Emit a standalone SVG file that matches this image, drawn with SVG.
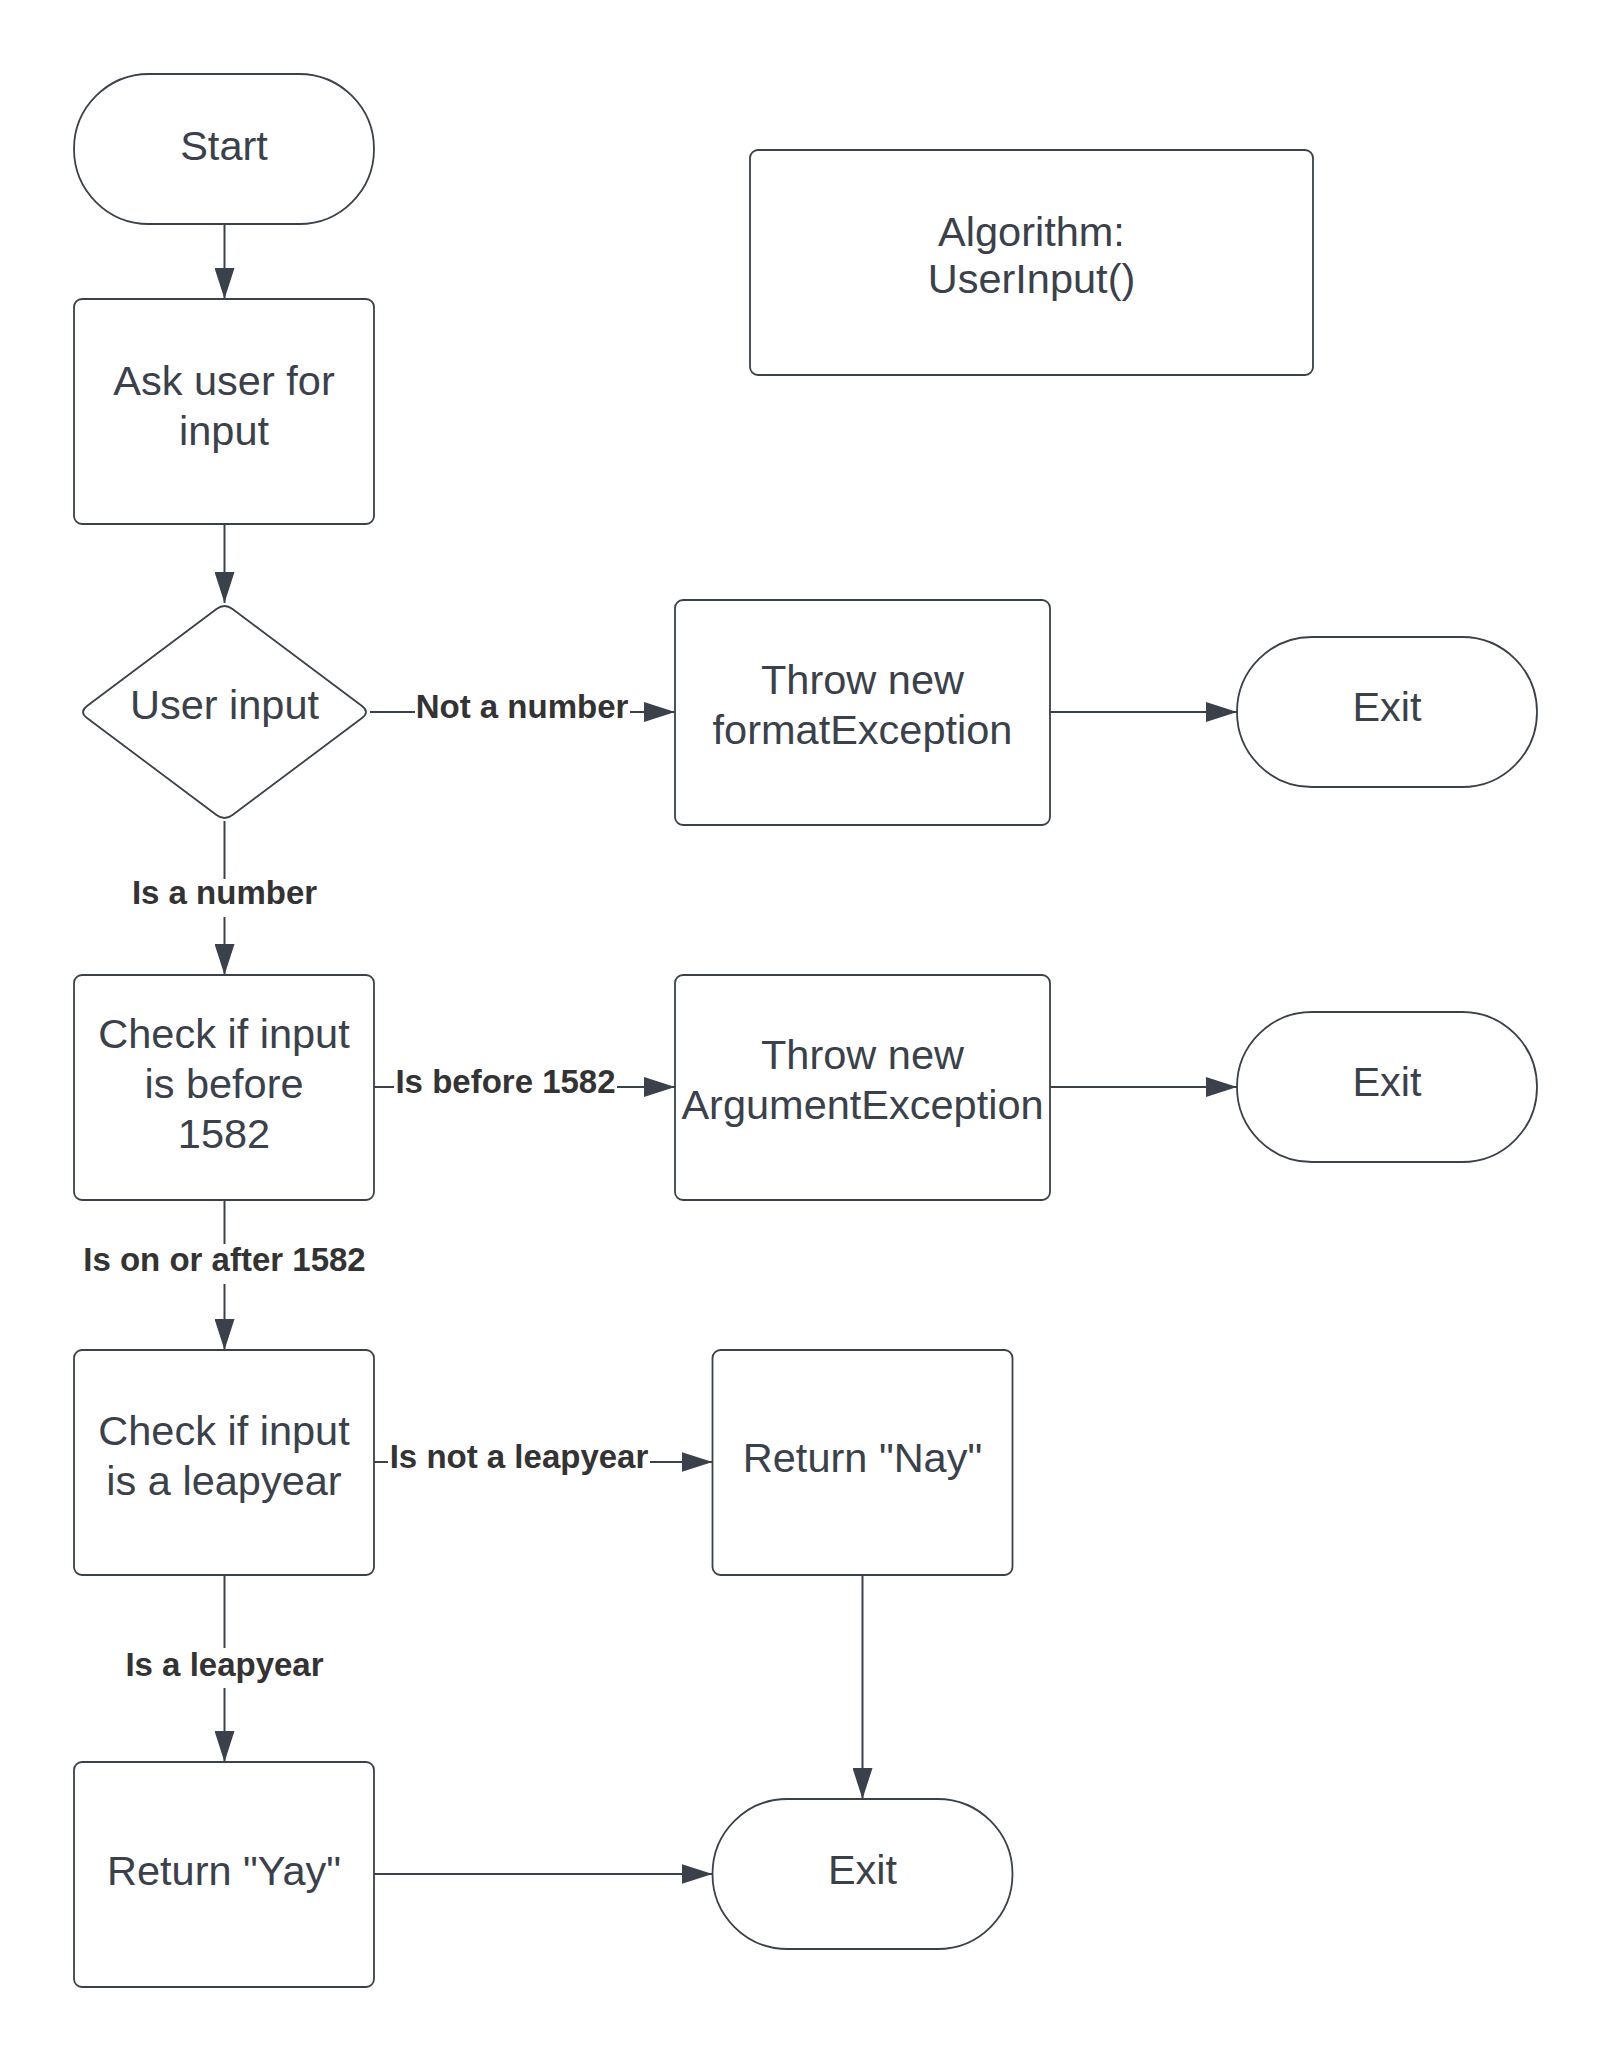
<svg xmlns="http://www.w3.org/2000/svg" width="1613" height="2063" viewBox="0 0 1613 2063">
<style>
.shape{fill:#ffffff;stroke:#3a414a;stroke-width:1.8}
.t{font-family:"Liberation Sans",Arial,sans-serif;font-size:41.5px;fill:#3a414a;text-anchor:middle}
.lbl{font-family:"Liberation Sans",Arial,sans-serif;font-size:33px;font-weight:bold;fill:#333333;text-anchor:middle}
.conn{fill:none;stroke:#3a414a;stroke-width:2;marker-end:url(#arr)}
.bg{fill:#ffffff}
</style>
<defs>
<marker id="arr" markerUnits="userSpaceOnUse" markerWidth="31" markerHeight="20" refX="31" refY="10" orient="auto">
<path d="M0,0 L31,10 L0,20 Z" fill="#3a414a"/>
</marker>
</defs>
<rect width="1613" height="2063" fill="#ffffff"/>

<g id="connectors">
<path class="conn" d="M224.5,224 L224.5,299"/>
<path class="conn" d="M224.5,524 L224.5,603"/>
<path class="conn" d="M370,712 L675,712"/>
<path class="conn" d="M1050,712 L1237,712"/>
<path class="conn" d="M224.5,821 L224.5,975"/>
<path class="conn" d="M374,1087 L675,1087"/>
<path class="conn" d="M1050,1087 L1237,1087"/>
<path class="conn" d="M224.5,1200 L224.5,1350"/>
<path class="conn" d="M374,1462 L712.5,1462"/>
<path class="conn" d="M224.5,1575 L224.5,1762"/>
<path class="conn" d="M862.5,1575 L862.5,1799"/>
<path class="conn" d="M374,1874 L712.5,1874"/>
<g id="labels">
<rect class="bg" x="415" y="692" width="215" height="38"/>
<text class="lbl" x="522" y="718">Not a number</text>
<rect class="bg" x="130" y="879" width="189" height="38"/>
<text class="lbl" x="224.5" y="904">Is a number</text>
<rect class="bg" x="394" y="1067" width="223" height="38"/>
<text class="lbl" x="505.5" y="1093">Is before 1582</text>
<rect class="bg" x="80" y="1244" width="288" height="40"/>
<text class="lbl" x="224.5" y="1271">Is on or after 1582</text>
<rect class="bg" x="388" y="1442" width="262" height="38"/>
<text class="lbl" x="519" y="1468">Is not a leapyear</text>
<rect class="bg" x="123" y="1648" width="203" height="40"/>
<text class="lbl" x="224.5" y="1676">Is a leapyear</text>
</g>
</g>

<g id="start">
<rect class="shape" x="74" y="74" width="300" height="150" rx="75" ry="75"/>
<text class="t" x="224" y="160">Start</text>
</g>
<g id="algorithm">
<rect class="shape" x="750" y="150" width="563" height="225" rx="8"/>
<text class="t" x="1031.5" y="246">Algorithm:</text>
<text class="t" x="1031.5" y="293">UserInput()</text>
</g>
<g id="ask">
<rect class="shape" x="74" y="299" width="300" height="225" rx="8"/>
<text class="t" x="224" y="395">Ask user for</text>
<text class="t" x="224" y="445">input</text>
</g>
<g id="decision">
<path class="shape" d="M232.5,609 L362,706 Q370,712 362,718 L232.5,815 Q224.5,821 216.5,815 L87,718 Q79,712 87,706 L216.5,609 Q224.5,603 232.5,609 Z"/>
<text class="t" x="224.5" y="719">User input</text>
</g>
<g id="throw-format">
<rect class="shape" x="675" y="600" width="375" height="225" rx="8"/>
<text class="t" x="862.5" y="694">Throw new</text>
<text class="t" x="862.5" y="744">formatException</text>
</g>
<g id="exit1">
<rect class="shape" x="1237" y="637" width="300" height="150" rx="75" ry="75"/>
<text class="t" x="1387" y="721">Exit</text>
</g>
<g id="check-1582">
<rect class="shape" x="74" y="975" width="300" height="225" rx="8"/>
<text class="t" x="224" y="1048">Check if input</text>
<text class="t" x="224" y="1098">is before</text>
<text class="t" x="224" y="1148">1582</text>
</g>
<g id="throw-argument">
<rect class="shape" x="675" y="975" width="375" height="225" rx="8"/>
<text class="t" x="862.5" y="1069">Throw new</text>
<text class="t" x="862.5" y="1119">ArgumentException</text>
</g>
<g id="exit2">
<rect class="shape" x="1237" y="1012" width="300" height="150" rx="75" ry="75"/>
<text class="t" x="1387" y="1096">Exit</text>
</g>
<g id="check-leap">
<rect class="shape" x="74" y="1350" width="300" height="225" rx="8"/>
<text class="t" x="224" y="1445">Check if input</text>
<text class="t" x="224" y="1495">is a leapyear</text>
</g>
<g id="return-nay">
<rect class="shape" x="712.5" y="1350" width="300" height="225" rx="8"/>
<text class="t" x="862.5" y="1472">Return "Nay"</text>
</g>
<g id="return-yay">
<rect class="shape" x="74" y="1762" width="300" height="225" rx="8"/>
<text class="t" x="224" y="1885">Return "Yay"</text>
</g>
<g id="exit3">
<rect class="shape" x="712.5" y="1799" width="300" height="150" rx="75" ry="75"/>
<text class="t" x="862.5" y="1884">Exit</text>
</g>
</svg>
